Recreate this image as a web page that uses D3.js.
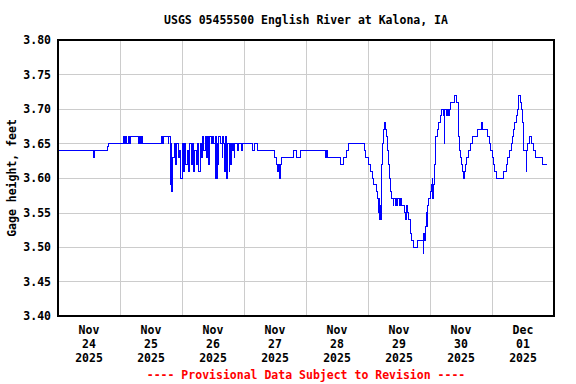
<!DOCTYPE html>
<html>
<head>
<meta charset="utf-8">
<script src="https://cdn.jsdelivr.net/npm/d3@7"></script>
<style>
  html, body { margin: 0; padding: 0; background: #fff; }
  svg { display: block; font-family: "DejaVu Sans Mono", monospace; font-weight: bold; }
</style>
</head>
<body>
<svg id="viz" width="576" height="384"></svg>
<script>
const TITLE = 'USGS 05455500 English River at Kalona, IA';
const Y_LABEL = 'Gage height, feet';
const FOOTER = '---- Provisional Data Subject to Revision ----';

// x domain: Nov 24 2025 00:00 -> Dec 2 2025 00:00
const startDay = new Date(2025, 10, 24);
const endDay = new Date(2025, 11, 2);
const yTicks = [3.40, 3.45, 3.50, 3.55, 3.60, 3.65, 3.70, 3.75, 3.80];

// gage readings: hours after Nov 24 00:00 where the value changes, and the value
const hours = [
  0, 13.9, 14.2, 19.35, 19.7, 25.3, 25.9, 26.3, 26.7, 27.1, 27.5, 27.9,
  31.2, 31.7, 32.1, 32.4, 32.9, 39.9, 40.6, 41.0, 42.6, 42.9,
  43.4, 43.7, 44.1, 44.5, 45, 45.5, 46, 46.5, 47, 47.5, 48, 48.5, 49, 49.5,
  50, 50.5, 51, 51.5, 52, 52.5, 53, 53.5, 54, 54.5, 55, 55.5, 56, 56.5, 57, 57.5,
  58, 58.3, 58.8, 59.3, 59.8, 60.3, 60.8, 61.1, 61.4, 61.7, 62.0, 62.3, 62.8,
  63.5, 63.8, 64.2, 64.6, 64.9, 65.2, 65.5, 66.2, 66.5, 66.8, 67.1, 67.6, 67.9,
  68.2, 68.5, 69.6, 69.9, 71.1, 71.4, 75.4, 76.0, 77.4,
  83.7, 84.4, 85.0, 85.4, 85.9, 86.2, 86.6, 91.1, 92.2, 93.7,
  103.4, 103.8, 104.2, 109.4, 110.7, 111.5, 112.3,
  118.5, 119.2, 120.0, 120.8, 121.6, 122.3, 123.1, 123.7,
  124.1, 124.3, 124.5, 124.7, 125.0, 125.2, 125.4, 125.7, 125.9, 126.2, 126.6,
  127.2, 127.6, 128.1, 128.5, 128.9, 129.2, 129.7, 130.0, 130.5, 130.7, 131.2,
  131.6, 132.0, 132.4, 133.0, 134.3, 134.6, 134.9, 135.2, 135.5, 136.3, 136.9,
  137.6, 139.2, 141.4, 141.6, 141.9, 142.2, 142.6, 142.9, 143.2, 143.6, 144.0,
  144.4, 144.8, 145.1, 145.4, 145.8, 146.2, 146.8, 147.4, 148.0, 148.6, 149.3,
  149.6, 149.8, 150.3, 150.7, 151.2, 151.6, 152.0, 153.5, 154.3, 155.0, 155.3,
  155.7, 156.0, 156.4, 156.8, 157.2, 157.6, 158.0, 158.8, 159.6, 160.3, 162.4,
  164.1, 164.5, 166.3, 167.0, 167.6, 168.0, 168.5, 169.0, 169.6, 172.4, 173.6,
  174.1, 174.6, 175.6, 176.1, 176.5, 176.9, 177.3, 177.7, 178.1, 179.0, 179.4,
  179.8, 180.1, 181.2, 181.5, 181.8, 182.4, 183.3, 184.1, 184.8, 187.6, 189.4
];
const gage = [
  3.64, 3.63, 3.64, 3.645, 3.65, 3.66, 3.65, 3.66, 3.65, 3.66, 3.65, 3.66,
  3.65, 3.66, 3.65, 3.66, 3.65, 3.66, 3.65, 3.66, 3.65, 3.66,
  3.59, 3.65, 3.58, 3.63, 3.65, 3.62, 3.65, 3.63, 3.64, 3.60, 3.65, 3.61, 3.65, 3.62,
  3.64, 3.61, 3.65, 3.62, 3.65, 3.61, 3.64, 3.62, 3.65, 3.61, 3.65, 3.63, 3.66, 3.64, 3.66, 3.63,
  3.66, 3.62, 3.66, 3.65, 3.66, 3.65, 3.60, 3.66, 3.60, 3.65, 3.62, 3.66, 3.65,
  3.63, 3.66, 3.65, 3.61, 3.66, 3.60, 3.65, 3.61, 3.65, 3.62, 3.65, 3.64, 3.65,
  3.63, 3.65, 3.64, 3.65, 3.64, 3.65, 3.64, 3.65, 3.64,
  3.63, 3.62, 3.61, 3.62, 3.60, 3.62, 3.63, 3.64, 3.63, 3.64,
  3.63, 3.64, 3.63, 3.62, 3.63, 3.64, 3.65,
  3.64, 3.63, 3.62, 3.61, 3.60, 3.59, 3.58, 3.57,
  3.55, 3.57, 3.54, 3.56, 3.54, 3.57, 3.62, 3.65, 3.67, 3.68, 3.67,
  3.66, 3.64, 3.62, 3.60, 3.58, 3.57, 3.56, 3.57, 3.56, 3.57, 3.56,
  3.57, 3.56, 3.57, 3.56, 3.55, 3.54, 3.56, 3.55, 3.54, 3.52, 3.51,
  3.50, 3.51, 3.49, 3.52, 3.51, 3.53, 3.55, 3.53, 3.56, 3.57, 3.58,
  3.59, 3.60, 3.57, 3.59, 3.62, 3.66, 3.67, 3.68, 3.69, 3.70, 3.69,
  3.65, 3.70, 3.69, 3.70, 3.69, 3.70, 3.71, 3.72, 3.71, 3.66, 3.64,
  3.63, 3.62, 3.61, 3.60, 3.61, 3.62, 3.63, 3.64, 3.65, 3.66, 3.67,
  3.68, 3.67, 3.66, 3.65, 3.64, 3.63, 3.62, 3.61, 3.60, 3.61, 3.62,
  3.63, 3.64, 3.65, 3.66, 3.67, 3.68, 3.69, 3.70, 3.72, 3.71, 3.70,
  3.68, 3.64, 3.61, 3.64, 3.65, 3.66, 3.65, 3.64, 3.63, 3.62, 3.62
];

const plotLeft = 58, plotRight = 554, plotTop = 40, plotBottom = 316;

const svg = d3.select('#viz');

const x = d3.scaleTime().domain([startDay, endDay]).range([plotLeft, plotRight]);
const y = d3.scaleLinear().domain([3.40, 3.80]).range([plotBottom, plotTop]);

const points = hours.map((h, i) => ({
  t: new Date(startDay.getTime() + h * 3600e3),
  v: gage[i]
}));

// title
svg.append('text')
  .attr('x', 306).attr('y', 24)
  .attr('text-anchor', 'middle')
  .attr('font-size', 11.5)
  .text(TITLE);

// grid
const grid = svg.append('g').attr('stroke', '#cccccc').attr('stroke-width', 1).attr('shape-rendering', 'crispEdges');
grid.selectAll('line.v')
  .data(d3.timeDay.range(d3.timeDay.offset(startDay, 1), endDay))
  .join('line')
  .attr('class', 'v')
  .attr('x1', (d) => Math.round(x(d)) + 0.5).attr('x2', (d) => Math.round(x(d)) + 0.5)
  .attr('y1', plotTop).attr('y2', plotBottom);
grid.selectAll('line.h')
  .data(yTicks.slice(1, -1))
  .join('line')
  .attr('class', 'h')
  .attr('x1', plotLeft).attr('x2', plotRight)
  .attr('y1', (d) => Math.round(y(d)) + 0.5).attr('y2', (d) => Math.round(y(d)) + 0.5);

// data line
const line = d3.line()
  .x((d) => x(d.t))
  .y((d) => y(d.v))
  .curve(d3.curveStepAfter);

svg.append('path')
  .datum(points)
  .attr('fill', 'none')
  .attr('stroke', '#0000ff')
  .attr('stroke-width', 1)
  .attr('shape-rendering', 'crispEdges')
  .attr('d', line);

// frame
svg.append('rect')
  .attr('x', plotLeft).attr('y', plotTop)
  .attr('width', plotRight - plotLeft).attr('height', plotBottom - plotTop)
  .attr('fill', 'none')
  .attr('stroke', '#000')
  .attr('stroke-width', 2);

// y tick labels
svg.append('g').selectAll('text')
  .data(yTicks)
  .join('text')
  .attr('x', 51)
  .attr('y', (d) => y(d) + 4)
  .attr('text-anchor', 'end')
  .attr('font-size', 11.5)
  .text(d3.format('.2f'));

// y axis title
svg.append('text')
  .attr('transform', `translate(16,${(plotTop + plotBottom) / 2}) rotate(-90)`)
  .attr('text-anchor', 'middle')
  .attr('font-size', 11.5)
  .text(Y_LABEL);

// x tick labels at noon of each day
const noons = d3.timeDay.range(startDay, endDay).map((d) => d3.timeHour.offset(d, 12));
const xl = svg.append('g').selectAll('text')
  .data(noons)
  .join('text')
  .attr('text-anchor', 'middle')
  .attr('font-size', 11.5);
[['%b', 334], ['%d', 348], ['%Y', 362]].forEach(([fmt, yy]) => {
  xl.append('tspan')
    .attr('x', (d) => x(d))
    .attr('y', yy)
    .text((d) => d3.timeFormat(fmt)(d));
});

// footer
svg.append('text')
  .attr('x', 306).attr('y', 379)
  .attr('text-anchor', 'middle')
  .attr('font-size', 11.5)
  .attr('fill', '#ff0000')
  .text(FOOTER);
</script>
</body>
</html>
